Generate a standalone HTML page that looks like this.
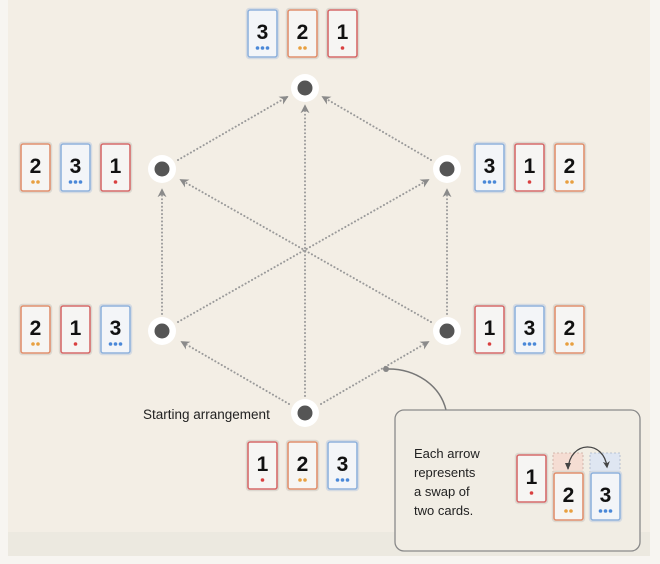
<!DOCTYPE html>
<html><head><meta charset="utf-8"><style>
html,body{margin:0;padding:0;background:#f7f5f1;}
svg{display:block;font-family:"Liberation Sans",sans-serif;}
</style></head><body>
<svg width="660" height="564" viewBox="0 0 660 564" xmlns="http://www.w3.org/2000/svg">
<defs>
<marker id="ah" viewBox="0 0 10 10" refX="8" refY="5" markerWidth="9" markerHeight="9" markerUnits="userSpaceOnUse" orient="auto">
<path d="M0,0 L10,5 L0,10 L3,5 Z" fill="#8a8a8a"/></marker>
<marker id="ah2" viewBox="0 0 10 10" refX="8" refY="5" markerWidth="7" markerHeight="7" markerUnits="userSpaceOnUse" orient="auto">
<path d="M0,0 L10,5 L0,10 L3,5 Z" fill="#444"/></marker>
</defs>
<rect x="8" y="0" width="642" height="556" fill="#f3eee5"/>
<rect x="8" y="532" width="642" height="24" fill="#ece9e0"/>

<g stroke="#9a9a9a" stroke-width="2" stroke-dasharray="0.1 3.6" stroke-linecap="round" fill="none" marker-end="url(#ah)">
<line x1="289" y1="404" x2="182" y2="342"/>
<line x1="321" y1="404" x2="428" y2="342"/>
<line x1="305" y1="396" x2="305" y2="106"/>
<line x1="162" y1="314" x2="162" y2="190"/>
<line x1="447" y1="314" x2="447" y2="190"/>
<line x1="178" y1="322" x2="428" y2="180"/>
<line x1="431" y1="322" x2="181" y2="180"/>
<line x1="178" y1="160" x2="287" y2="97"/>
<line x1="431" y1="160" x2="323" y2="97"/>
</g>

<g>
<circle cx="305" cy="88" r="14" fill="#fff"/><circle cx="305" cy="88" r="7.5" fill="#555"/>
<circle cx="162" cy="169" r="14" fill="#fff"/><circle cx="162" cy="169" r="7.5" fill="#555"/>
<circle cx="447" cy="169" r="14" fill="#fff"/><circle cx="447" cy="169" r="7.5" fill="#555"/>
<circle cx="162" cy="331" r="14" fill="#fff"/><circle cx="162" cy="331" r="7.5" fill="#555"/>
<circle cx="447" cy="331" r="14" fill="#fff"/><circle cx="447" cy="331" r="7.5" fill="#555"/>
<circle cx="305" cy="413" r="14" fill="#fff"/><circle cx="305" cy="413" r="7.5" fill="#555"/>
</g>

<text x="143" y="419" font-size="13.5" fill="#222">Starting arrangement</text>

<path d="M386,369 C415,368 440,385 446,410" stroke="#777" stroke-width="1.5" fill="none"/>
<circle cx="386" cy="369" r="3" fill="#888"/>
<rect x="395" y="410" width="245" height="141" rx="9" fill="#f1ede4" stroke="#8a8a8a" stroke-width="1.3"/>
<g font-size="13" fill="#222">
<text x="414" y="458">Each arrow</text>
<text x="414" y="477">represents</text>
<text x="414" y="496">a swap of</text>
<text x="414" y="515">two cards.</text>
</g>

<defs>
<g id="c1"><rect x="-1.5" y="-1.5" width="32" height="50" rx="3" fill="none" stroke="#dcd8d0" stroke-width="1.5"/><rect x="0" y="0" width="29" height="47" rx="2" fill="#f6f5f3" stroke="#d56a6a" stroke-width="1.6"/>
<text x="14.5" y="29" font-size="21" font-weight="bold" text-anchor="middle" fill="#111">1</text>
<circle cx="14.5" cy="38" r="1.8" fill="#d94040"/></g>
<g id="c2"><rect x="-1.5" y="-1.5" width="32" height="50" rx="3" fill="none" stroke="#dcd8d0" stroke-width="1.5"/><rect x="0" y="0" width="29" height="47" rx="2" fill="#f6f5f3" stroke="#e0906e" stroke-width="1.6"/>
<text x="14.5" y="29" font-size="21" font-weight="bold" text-anchor="middle" fill="#111">2</text>
<circle cx="12" cy="38" r="1.8" fill="#e8a040"/><circle cx="17" cy="38" r="1.8" fill="#e8a040"/></g>
<g id="c3"><rect x="-1.5" y="-1.5" width="32" height="50" rx="3" fill="none" stroke="#d4dae2" stroke-width="1.5"/><rect x="0" y="0" width="29" height="47" rx="2" fill="#f3f5f8" stroke="#8fb2dc" stroke-width="1.6"/>
<text x="14.5" y="29" font-size="21" font-weight="bold" text-anchor="middle" fill="#111">3</text>
<circle cx="9.5" cy="38" r="1.8" fill="#4a88d8"/><circle cx="14.5" cy="38" r="1.8" fill="#4a88d8"/><circle cx="19.5" cy="38" r="1.8" fill="#4a88d8"/></g>
</defs>

<use href="#c3" x="248" y="10"/><use href="#c2" x="288" y="10"/><use href="#c1" x="328" y="10"/>
<use href="#c2" x="21" y="144"/><use href="#c3" x="61" y="144"/><use href="#c1" x="101" y="144"/>
<use href="#c3" x="475" y="144"/><use href="#c1" x="515" y="144"/><use href="#c2" x="555" y="144"/>
<use href="#c2" x="21" y="306"/><use href="#c1" x="61" y="306"/><use href="#c3" x="101" y="306"/>
<use href="#c1" x="475" y="306"/><use href="#c3" x="515" y="306"/><use href="#c2" x="555" y="306"/>
<use href="#c1" x="248" y="442"/><use href="#c2" x="288" y="442"/><use href="#c3" x="328" y="442"/>

<rect x="553" y="453" width="30" height="20" fill="#f5ddd3" stroke="#c9aaa0" stroke-width="0.8" stroke-dasharray="2 2"/>
<rect x="590" y="453" width="30" height="20" fill="#dfe6f2" stroke="#a9b5c8" stroke-width="0.8" stroke-dasharray="2 2"/>
<use href="#c1" x="517" y="455"/>
<use href="#c2" x="554" y="473"/>
<use href="#c3" x="591" y="473"/>
<path d="M568,469 C570,440 604,440 607,467" stroke="#444" stroke-width="1.3" fill="none" marker-end="url(#ah2)"/>
<path d="M568,469 L568,466" stroke="none" fill="none"/>
<path d="M565,463 L568,470 L571,463 Z" fill="#444"/>
</svg>
</body></html>
